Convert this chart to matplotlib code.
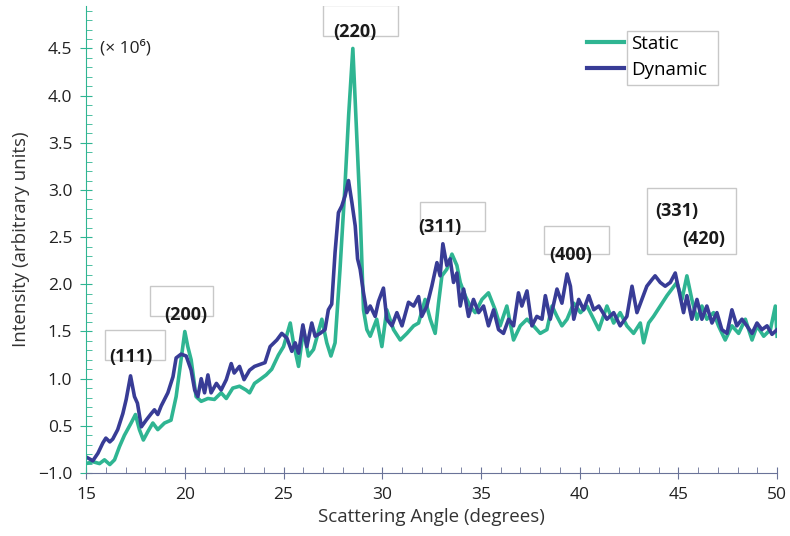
"""XRD pattern: static vs dynamic"""
import matplotlib
matplotlib.use("Agg")
import matplotlib.pyplot as plt
from matplotlib.patches import Rectangle

plt.rcParams['font.family'] = ['Open Sans', 'DejaVu Sans']

# data (intensity in units of 1e6)
static_angle = [15.0, 15.34, 15.68, 15.93, 16.2, 16.44, 16.69, 16.94, 17.28, 17.5,
                17.7, 17.9, 18.13, 18.38, 18.63, 18.97, 19.3, 19.56, 19.81, 20.0,
                20.15, 20.32, 20.57, 20.83, 21.17, 21.5, 21.84, 22.1, 22.43, 22.77,
                23.1, 23.28, 23.53, 23.8, 24.12, 24.4, 24.74, 25.0, 25.34, 25.5,
                25.76, 26.01, 26.26, 26.52, 26.94, 27.19, 27.4, 27.61, 27.86, 28.1,
                28.3, 28.51, 28.7, 28.88, 29.05, 29.22, 29.39, 29.72, 29.98, 30.23,
                30.57, 30.91, 31.25, 31.59, 31.84, 32.17, 32.43, 32.68, 32.85, 33.02,
                33.27, 33.53, 33.78, 33.95, 34.2, 34.45, 34.71, 35.05, 35.38, 35.72,
                35.97, 36.31, 36.65, 36.99, 37.33, 37.66, 38.0, 38.34, 38.6, 38.85,
                39.1, 39.36, 39.7, 40.04, 40.37, 40.71, 40.97, 41.38, 41.72, 42.05,
                42.39, 42.73, 43.07, 43.24, 43.49, 43.74, 44.08, 44.42, 44.67, 44.92,
                45.18, 45.43, 45.68, 45.94, 46.19, 46.44, 46.78, 47.03, 47.37, 47.71,
                48.05, 48.39, 48.73, 48.98, 49.32, 49.66, 49.91, 50.0]
static_int = [0.10, 0.12, 0.10, 0.14, 0.09, 0.14, 0.28, 0.40, 0.53, 0.62,
              0.46, 0.35, 0.44, 0.53, 0.46, 0.53, 0.56, 0.81, 1.20, 1.50,
              1.34, 1.20, 0.81, 0.76, 0.79, 0.78, 0.85, 0.79, 0.90, 0.92,
              0.88, 0.85, 0.95, 0.99, 1.04, 1.10, 1.25, 1.34, 1.59, 1.38,
              1.13, 1.52, 1.24, 1.31, 1.63, 1.38, 1.24, 1.38, 2.16, 3.00,
              3.80, 4.50, 3.60, 2.77, 1.73, 1.52, 1.45, 1.63, 1.34, 1.73,
              1.52, 1.41, 1.48, 1.56, 1.59, 1.84, 1.63, 1.48, 1.80, 2.09,
              2.16, 2.32, 2.20, 2.02, 1.88, 1.77, 1.70, 1.84, 1.91, 1.73,
              1.56, 1.77, 1.41, 1.56, 1.63, 1.56, 1.48, 1.52, 1.77, 1.66,
              1.56, 1.63, 1.80, 1.70, 1.77, 1.63, 1.52, 1.77, 1.59, 1.70,
              1.56, 1.48, 1.59, 1.38, 1.59, 1.66, 1.77, 1.88, 1.95, 2.02,
              1.84, 2.09, 1.84, 1.63, 1.77, 1.63, 1.70, 1.56, 1.41, 1.56,
              1.48, 1.63, 1.41, 1.56, 1.45, 1.52, 1.77, 1.45]

dynamic_angle = [15.0, 15.34, 15.6, 15.85, 16.0, 16.2, 16.35, 16.6, 16.86, 17.03,
                 17.25, 17.45, 17.6, 17.8, 18.04, 18.3, 18.46, 18.63, 18.8, 19.14,
                 19.4, 19.56, 19.81, 20.07, 20.32, 20.5, 20.66, 20.83, 21.0, 21.17,
                 21.33, 21.6, 21.84, 22.1, 22.35, 22.5, 22.77, 23.0, 23.28, 23.53,
                 23.8, 24.06, 24.32, 24.66, 24.91, 25.17, 25.42, 25.59, 25.76, 25.98,
                 26.18, 26.43, 26.6, 26.85, 27.1, 27.27, 27.44, 27.61, 27.78, 27.95,
                 28.12, 28.29, 28.46, 28.63, 28.75, 28.88, 29.05, 29.22, 29.39, 29.64,
                 29.81, 30.06, 30.23, 30.49, 30.74, 31.0, 31.33, 31.59, 31.84, 32.0,
                 32.26, 32.51, 32.77, 32.93, 33.07, 33.27, 33.44, 33.61, 33.78, 33.95,
                 34.12, 34.37, 34.62, 34.88, 35.13, 35.38, 35.64, 35.89, 36.14, 36.4,
                 36.65, 36.9, 37.07, 37.33, 37.58, 37.83, 38.09, 38.26, 38.51, 38.85,
                 39.1, 39.36, 39.53, 39.7, 39.95, 40.2, 40.46, 40.71, 40.97, 41.38,
                 41.72, 42.05, 42.39, 42.65, 42.9, 43.15, 43.4, 43.66, 43.82, 44.08,
                 44.33, 44.59, 44.84, 45.01, 45.26, 45.43, 45.68, 45.94, 46.19, 46.44,
                 46.7, 46.95, 47.2, 47.46, 47.71, 47.96, 48.22, 48.47, 48.73, 48.98,
                 49.23, 49.49, 49.74, 50.0]
dynamic_int = [0.17, 0.13, 0.21, 0.32, 0.37, 0.33, 0.36, 0.46, 0.63, 0.78,
               1.03, 0.81, 0.74, 0.49, 0.56, 0.63, 0.67, 0.62, 0.71, 0.85,
               1.02, 1.22, 1.26, 1.24, 1.09, 0.88, 0.81, 1.00, 0.85, 1.04,
               0.85, 0.95, 0.88, 0.99, 1.16, 1.06, 1.13, 0.99, 1.09, 1.13,
               1.15, 1.17, 1.34, 1.41, 1.48, 1.43, 1.29, 1.38, 1.27, 1.57,
               1.34, 1.59, 1.45, 1.48, 1.52, 1.73, 1.79, 2.34, 2.76, 2.83,
               2.94, 3.10, 2.87, 2.62, 2.27, 2.16, 1.91, 1.70, 1.77, 1.66,
               1.82, 1.96, 1.63, 1.56, 1.70, 1.56, 1.81, 1.77, 1.87, 1.66,
               1.77, 1.98, 2.23, 2.09, 2.43, 2.20, 2.27, 2.02, 2.12, 1.77,
               1.95, 1.66, 1.84, 1.70, 1.77, 1.56, 1.73, 1.52, 1.48, 1.63,
               1.56, 1.91, 1.77, 1.93, 1.56, 1.66, 1.63, 1.88, 1.63, 1.95,
               1.80, 2.11, 1.98, 1.63, 1.84, 1.73, 1.88, 1.73, 1.77, 1.63,
               1.70, 1.56, 1.66, 1.98, 1.70, 1.84, 1.98, 2.05, 2.09, 2.02,
               1.98, 2.02, 2.12, 1.95, 1.70, 1.88, 1.63, 1.84, 1.63, 1.77,
               1.59, 1.70, 1.52, 1.48, 1.73, 1.56, 1.63, 1.56, 1.48, 1.59,
               1.52, 1.56, 1.47, 1.52]

y_ticks = [0.0, 0.5, 1.0, 1.5, 2.0, 2.5, 3.0, 3.5, 4.0, 4.5]
y_tick_labels = ["\u22121.0", "0.5", "1.0", "1.5", "2.0", "2.5", "3.0", "3.5", "4.0", "4.5"]
x_ticks = [15, 20, 25, 30, 35, 40, 45, 50]

# peak labels: text, (x, y), box (x0, y0, x1, y1)
peaks = [
    ("(111)", 17.28, 1.23, (15.96, 1.20, 19.0, 1.52)),
    ("(200)", 20.07, 1.67, (18.24, 1.66, 21.43, 1.98)),
    ("(220)", 28.63, 4.67, (27.0, 4.63, 30.8, 4.96)),
    ("(311)", 32.93, 2.61, (31.92, 2.56, 35.21, 2.87)),
    ("(400)", 39.52, 2.31, (38.2, 2.32, 41.49, 2.62)),
    ("(331)", 44.94, 2.78, None),
    ("(420)", 46.26, 2.48, (43.42, 2.32, 47.93, 3.02)),
]

GREEN = "#2fb592"
BLUE = "#383c96"

fig = plt.figure(figsize=(7.9, 5.36), dpi=100)
ax = fig.add_axes([0.109, 0.1175, 0.8747, 0.8713])

ax.plot(static_angle, static_int, color=GREEN, lw=2.6, label="Static", solid_joinstyle="round")
ax.plot(dynamic_angle, dynamic_int, color=BLUE, lw=2.6, label="Dynamic", solid_joinstyle="round")

ax.set_xlim(15, 50)
ax.set_ylim(0, 4.95)
ax.set_xticks(x_ticks)
ax.set_xticks([v for v in range(15, 51)], minor=True)
ax.set_yticks(y_ticks)
ax.set_yticklabels(y_tick_labels)
ax.set_yticks([i / 10 for i in range(0, 50)], minor=True)

for s in ["top", "right"]:
    ax.spines[s].set_visible(False)
ax.spines["left"].set_color(GREEN)
ax.spines["bottom"].set_color("#6a7398")

ax.tick_params(axis="y", which="major", direction="inout", length=8, color=GREEN,
               labelsize=12.5, labelcolor="#222222", pad=6)
ax.tick_params(axis="y", which="minor", direction="in", length=4, color=GREEN)
ax.tick_params(axis="x", which="major", direction="inout", length=8, color="#6a7398",
               labelsize=12.5, labelcolor="#222222", pad=6)
ax.tick_params(axis="x", which="minor", direction="in", length=4, color="#6a7398")

ax.set_xlabel("Scattering Angle (degrees)", fontsize=13.5, color="#333333", labelpad=4)
ax.set_ylabel("Intensity (arbitrary units)", fontsize=13.5, color="#333333", labelpad=6)

ax.text(0.02, 0.91, "(\u00d7 10\u2076)", transform=ax.transAxes, fontsize=12.5,
        va="center", ha="left", color="#222222")

for name, px, py, box in peaks:
    if box is not None:
        x0, y0, x1, y1 = box
        ax.add_patch(Rectangle((x0, y0), x1 - x0, y1 - y0, fill=False,
                               edgecolor="#c8c8c8", lw=1, zorder=1))
    ax.text(px, py, name, fontsize=13, fontweight="bold", ha="center",
            va="center", color="#1a1a1a", zorder=3)

leg = ax.legend(loc="upper left", bbox_to_anchor=(0.7, 0.975), frameon=False,
                fontsize=13.5, handlelength=2.0, handletextpad=0.35, labelspacing=0.45)
for line in leg.get_lines():
    line.set_linewidth(3)
ax.add_patch(Rectangle((0.783, 0.831), 0.132, 0.115, transform=ax.transAxes,
                       fill=False, edgecolor="#c8c8c8", lw=1, clip_on=False))

fig.savefig("out.png", dpi=100)
